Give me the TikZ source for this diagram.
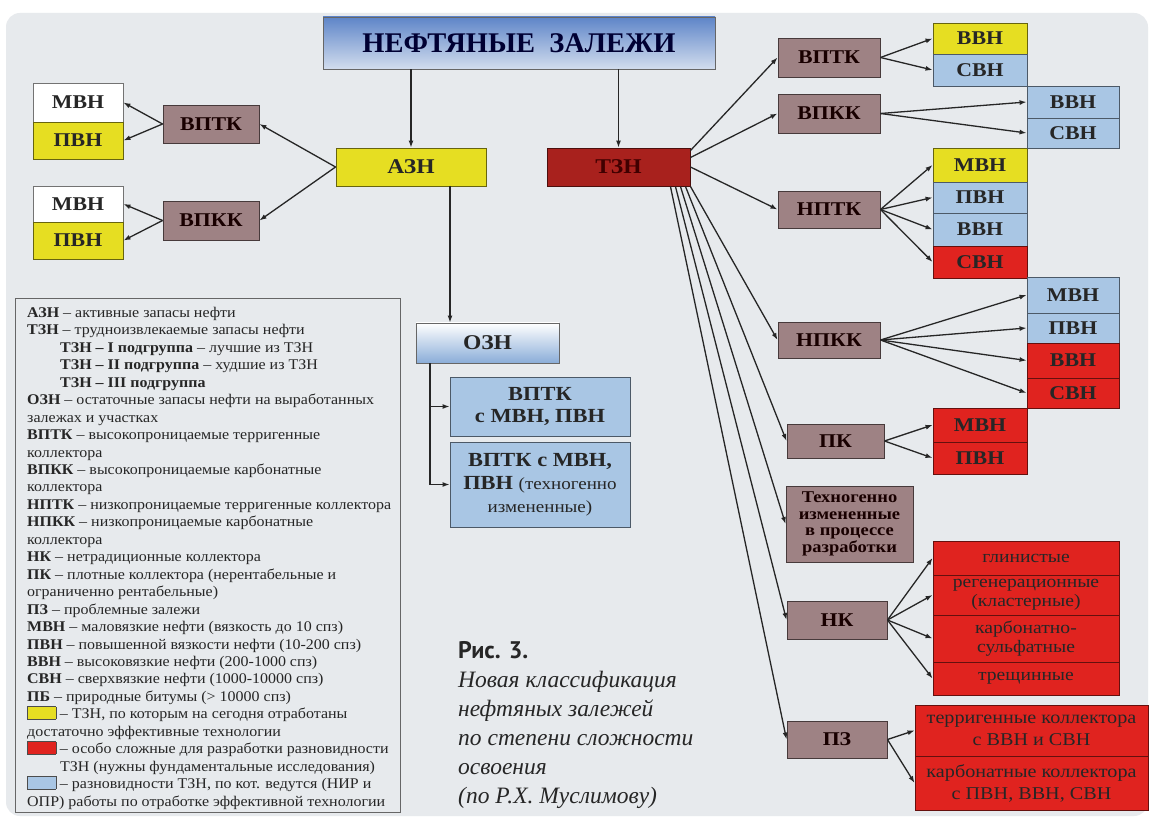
\documentclass[tikz,border=0pt]{standalone}
\usepackage{fontspec}
\setmainfont{Liberation Serif}
\newfontfamily\capsans{PT Sans}
\newfontfamily\boxfont[FakeStretch=1.12]{Liberation Serif}
\newfontfamily\legendfont[FakeStretch=1.08]{Liberation Serif}
\usetikzlibrary{positioning, arrows.meta}

\definecolor{bgpanel}{HTML}{E7EAED}
\definecolor{cmauve}{HTML}{9E8284}
\definecolor{cyellow}{HTML}{E6DE22}
\definecolor{cred}{HTML}{E0231F}
\definecolor{ctzn}{HTML}{A8211D}
\definecolor{cblue}{HTML}{A9C6E4}
\definecolor{ctitletop}{HTML}{5E85C8}
\definecolor{ctitlebot}{HTML}{D2DDEE}
\definecolor{cozn}{HTML}{8AADD8}

\newcommand{\swatch}[1]{{\setlength\fboxsep{0pt}\fcolorbox{black!70}{#1}{\rule{0pt}{12pt}\hspace{28pt}}}}

\begin{document}
\begin{tikzpicture}[x=1pt, y=-1pt]
	\tikzset{
		arr/.style={-{Latex[length=7pt,width=5pt]}, line width=1.3pt, black!85},
		cellbox/.style={draw=#1!45!black, fill=#1, line width=0.9pt, inner sep=0pt, align=center,
			text=black!85, font=\boxfont\bfseries\fontsize{19.5}{21}\selectfont},
		grpbox/.style={cellbox=cmauve, text=black!90!red},
		softtext/.style={font=\boxfont\fontsize{17.5}{19}\selectfont}
	}
	% фон
	\useasboundingbox (0,0) rectangle (1154,818);
	\fill[white] (0,0) rectangle (1154,818);
	\fill[bgpanel, rounded corners=14pt] (6,13) rectangle (1148,816);
	
	% верхний уровень
	\node[draw=black!60, line width=0.9pt, top color=ctitletop, bottom color=ctitlebot,
		minimum width=392pt, minimum height=52pt, text=black!80!blue,
		font=\bfseries\fontsize{28.5}{30}\selectfont] (title) at (519,43) {НЕФТЯНЫЕ\ \ ЗАЛЕЖИ};
	\node[cellbox=cyellow, minimum width=150pt, minimum height=38pt, font=\boxfont\bfseries\fontsize{21}{22}\selectfont] (azn) at (411,167) {АЗН};
	\node[cellbox=ctzn, minimum width=143pt, minimum height=38pt, font=\boxfont\bfseries\fontsize{21}{22}\selectfont, text=black!75!red] (tzn) at (618.5,167) {ТЗН};
	\draw[arr] (title.south -| azn.north) -- (azn.north);
	\draw[arr] (title.south -| tzn.north) -- (tzn.north);
	
	% ветвь АЗН
	\node[grpbox, minimum width=96pt, minimum height=38pt] (lvptk) at (211,124) {ВПТК};
	\node[grpbox, minimum width=96pt, minimum height=39pt] (lvpkk) at (211,220.5) {ВПКК};
	\node[cellbox=white, minimum width=90pt, minimum height=39pt] (lmvn1) at (78,102.5) {МВН};
	\node[cellbox=cyellow, minimum width=90pt, minimum height=37pt] (lpvn1) at (78,140.5) {ПВН};
	\node[cellbox=white, minimum width=90pt, minimum height=36pt] (lmvn2) at (78,204) {МВН};
	\node[cellbox=cyellow, minimum width=90pt, minimum height=37pt] (lpvn2) at (78,240.5) {ПВН};
	\draw[arr] (azn.west) -- (lvptk.east);
	\draw[arr] (azn.west) -- (lvpkk.east);
	\draw[arr] (lvptk.west) -- (lmvn1.east);
	\draw[arr] (lvptk.west) -- (lpvn1.east);
	\draw[arr] (lvpkk.west) -- (lmvn2.east);
	\draw[arr] (lvpkk.west) -- (lpvn2.east);
	
	% ветвь ОЗН
	\node[draw=black!60, line width=0.9pt, top color=white, bottom color=cozn,
		minimum width=143pt, minimum height=40pt, text=black!85,
		font=\boxfont\bfseries\fontsize{21}{22}\selectfont] (ozn) at (487.5,343) {ОЗН};
	\node[cellbox=cblue, minimum width=180pt, minimum height=59pt, font=\boxfont\bfseries\fontsize{20}{22}\selectfont] (ozn1) at (540,406.5) {ВПТК\\с МВН, ПВН};
	\node[cellbox=cblue, minimum width=180pt, minimum height=85pt, font=\boxfont\bfseries\fontsize{20}{23}\selectfont] (ozn2) at (540,484.5)
		{ВПТК с МВН,\\ПВН {\mdseries\fontsize{17}{23}\selectfont(техногенно}\\{\mdseries\fontsize{17}{23}\selectfont измененные)}};
	\coordinate (aznout) at (450,186);
	\coordinate (ozntrunk) at (430,363);
	\draw[arr] (aznout) -- (aznout |- ozn.north);
	\draw[arr] (ozntrunk) |- (ozn1.west);
	\draw[arr] (ozntrunk) |- (ozn2.west);
	
	% ветвь ТЗН
	\node[grpbox, minimum width=102pt, minimum height=39pt] (rvptk) at (829,57.5) {ВПТК};
	\node[grpbox, minimum width=102pt, minimum height=39pt] (rvpkk) at (829,113.5) {ВПКК};
	\node[grpbox, minimum width=102pt, minimum height=37pt] (rnptk) at (829,209.5) {НПТК};
	\node[grpbox, minimum width=102pt, minimum height=36pt] (rnpkk) at (829,340) {НПКК};
	\node[grpbox, minimum width=97pt, minimum height=34pt] (rpk) at (835.5,441) {ПК};
	\node[grpbox, minimum width=127pt, minimum height=76pt, font=\boxfont\bfseries\fontsize{16.5}{16.5}\selectfont] (rtech) at (849.5,524)
		{Техногенно\\измененные\\в процессе\\разработки};
	\node[grpbox, minimum width=100pt, minimum height=38pt] (rnk) at (837,620) {НК};
	\node[grpbox, minimum width=100pt, minimum height=37pt] (rpz) at (837,739.5) {ПЗ};
	\draw[arr] ([yshift=-3pt]tzn.north east) -- (rvptk.west);
	\draw[arr] ([yshift=-10pt]tzn.north east) -- (rvpkk.west);
	\draw[arr] (tzn.east) -- (rnptk.west);
	\foreach \t/\s in {rnpkk/0, rpk/5, rtech/10, rnk/15, rpz/20}
		\draw[arr] ([xshift=-\s pt]tzn.south east) -- (\t.west);
	
	% разновидности по вязкости
	\foreach \nm/\yc/\h/\col/\txt in {avvn/38.5/31/cyellow/ВВН, asvn/70/32/cblue/СВН,
			amvn/165/34/cyellow/МВН, apvn/197.5/31/cblue/ПВН, avvn2/229.5/33/cblue/ВВН, asvn2/262/32/cred/СВН,
			kmvn/425/34/cred/МВН, kpvn/458/32/cred/ПВН}
		\node[cellbox=\col, minimum width=94pt, minimum height=\h pt] (\nm) at (980,\yc) {\txt};
	\foreach \nm/\yc/\h/\col/\txt in {bvvn/102/32/cblue/ВВН, bsvn/133/30/cblue/СВН,
			bmvn/295/36/cblue/МВН, bpvn/328/30/cblue/ПВН, bvvn2/360.5/35/cred/ВВН, bsvn2/393/30/cred/СВН}
		\node[cellbox=\col, minimum width=92pt, minimum height=\h pt] (\nm) at (1073,\yc) {\txt};
	\foreach \b in {avvn, asvn} \draw[arr] (rvptk.east) -- (\b.west);
	\foreach \b in {bvvn, bsvn} \draw[arr] (rvpkk.east) -- (\b.west);
	\foreach \b in {amvn, apvn, avvn2, asvn2} \draw[arr] (rnptk.east) -- (\b.west);
	\foreach \b in {bmvn, bpvn, bvvn2, bsvn2} \draw[arr] (rnpkk.east) -- (\b.west);
	\foreach \b in {kmvn, kpvn} \draw[arr] (rpk.east) -- (\b.west);
	
	% нетрадиционные и проблемные
	\node[cellbox=cred, softtext, minimum width=186pt, minimum height=34pt] (nk1) at (1026,558) {глинистые};
	\node[cellbox=cred, softtext, minimum width=186pt, minimum height=40pt] (nk2) at (1026,595) {регенерационные\\(кластерные)};
	\node[cellbox=cred, softtext, minimum width=186pt, minimum height=47pt] (nk3) at (1026,638.5) {карбонатно-\\сульфатные};
	\node[cellbox=cred, softtext, minimum width=186pt, minimum height=33pt] (nk4) at (1026,678.5) {трещинные};
	\node[cellbox=cred, font=\boxfont\fontsize{18}{22}\selectfont, minimum width=233pt, minimum height=51pt] (pz1) at (1031.5,730.5) {терригенные коллектора\\с ВВН и СВН};
	\node[cellbox=cred, font=\boxfont\fontsize{18}{22}\selectfont, minimum width=233pt, minimum height=54pt] (pz2) at (1031.5,783) {карбонатные коллектора\\с ПВН, ВВН, СВН};
	\foreach \b in {nk1, nk2, nk3, nk4} \draw[arr] (rnk.east) -- (\b.west);
	\foreach \b in {pz1, pz2} \draw[arr] (rpz.east) -- (\b.west);
	
	% условные обозначения
	\draw[black!60, line width=0.9pt] (15,298) rectangle (400,812);
	\node[anchor=north west, inner sep=0pt, align=left, text=black!85,
		font=\legendfont\fontsize{14.8}{17.45}\selectfont] (legend) at (27,307) {%
		\textbf{АЗН} – активные запасы нефти\\
		\textbf{ТЗН} – трудноизвлекаемые запасы нефти\\
		\hspace*{33pt}\textbf{ТЗН – I подгруппа} – лучшие из ТЗН\\
		\hspace*{33pt}\textbf{ТЗН – II подгруппа} – худшие из ТЗН\\
		\hspace*{33pt}\textbf{ТЗН – III подгруппа}\\
		\textbf{ОЗН} – остаточные запасы нефти на выработанных\\
		залежах и участках\\
		\textbf{ВПТК} – высокопроницаемые терригенные\\
		коллектора\\
		\textbf{ВПКК} – высокопроницаемые карбонатные\\
		коллектора\\
		\textbf{НПТК} – низкопроницаемые терригенные коллектора\\
		\textbf{НПКК} – низкопроницаемые карбонатные\\
		коллектора\\
		\textbf{НК} – нетрадиционные коллектора\\
		\textbf{ПК} – плотные коллектора (нерентабельные и\\
		ограниченно рентабельные)\\
		\textbf{ПЗ} – проблемные залежи\\
		\textbf{МВН} – маловязкие нефти (вязкость до 10 спз)\\
		\textbf{ПВН} – повышенной вязкости нефти (10-200 спз)\\
		\textbf{ВВН} – высоковязкие нефти (200-1000 спз)\\
		\textbf{СВН} – сверхвязкие нефти (1000-10000 спз)\\
		\textbf{ПБ} – природные битумы (> 10000 спз)\\
		\swatch{cyellow} – ТЗН, по которым на сегодня отработаны\\
		достаточно эффективные технологии\\
		\swatch{cred} – особо сложные для разработки разновидности\\
		\hspace*{33pt}ТЗН (нужны фундаментальные исследования)\\
		\swatch{cblue} – разновидности ТЗН, по кот. ведутся (НИР и\\
		ОПР) работы по отработке эффективной технологии};
	
	% подпись
	\node[anchor=base west, inner sep=0pt, font=\capsans\bfseries\fontsize{24}{26}\selectfont, text=black!85] (figno) at (458,658) {Рис. 3.};
	\node[anchor=north west, inner sep=0pt, align=left, font=\itshape\fontsize{23.5}{29}\selectfont, text=black!85] (caption) at (458,671)
		{Новая классификация\\нефтяных залежей\\по степени сложности\\освоения\\(по Р.Х. Муслимову)};
\end{tikzpicture}
\end{document}
